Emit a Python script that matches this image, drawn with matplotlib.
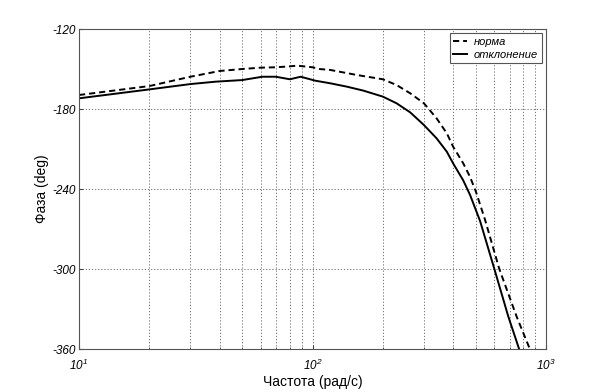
import math

import matplotlib

matplotlib.use("Agg")
import matplotlib.pyplot as plt
from matplotlib.ticker import FixedLocator, FuncFormatter, LogLocator, NullFormatter

plt.rcParams["font.family"] = ["Liberation Sans", "DejaVu Sans"]
plt.rcParams["font.style"] = "italic"
plt.rcParams["mathtext.fontset"] = "custom"
plt.rcParams["mathtext.it"] = "Liberation Sans:italic"
plt.rcParams["mathtext.rm"] = "Liberation Sans:italic"

# Phase response, nominal ("норма")
freq_norm = [10, 20, 30, 40, 50, 60, 70, 80, 86, 100, 107, 119, 155, 200, 229,
             262, 300, 340, 376, 400, 442, 473, 501, 548, 631, 749, 854]
phase_norm = [-169.5, -162.8, -155.8, -151.5, -150, -149, -148.7, -148, -147.5, -148.7,
              -150, -150.7, -154.5, -157.7, -162, -168.2, -175.7, -187, -198.2, -208.2,
              -220.7, -231, -242, -263, -300, -335.8, -360.3]

# Phase response, deviated ("отклонение")
freq_dev = [10, 20, 30, 38.5, 50, 61, 69.6, 80, 89, 103, 119, 140, 165, 200, 229,
            262, 300, 340, 376, 400, 442, 473, 522, 601, 690, 768]
phase_dev = [-172, -165.3, -161.3, -159.5, -158.3, -155.8, -155.8, -157.7, -155.8, -158.8,
             -160.7, -163.2, -166.2, -170.7, -175.7, -182.5, -192, -202, -212, -220.7,
             -233.5, -244.5, -264, -300, -335.8, -360.3]

y_ticks = [-360, -300, -240, -180, -120]
x_limits = (10, 1000)
y_limits = (-360, -120)

fig = plt.figure(figsize=(6.04, 3.92), dpi=100)
ax = fig.add_axes([79 / 604, 1 - 349 / 392, 467 / 604, 320 / 392])

ax.semilogx(freq_norm, phase_norm, color="black", linewidth=1.4, linestyle=(0, (3.2, 2)),
            label="норма")
ax.semilogx(freq_dev, phase_dev, color="black", linewidth=1.4, label="отклонение")

ax.set_xlim(*x_limits)
ax.set_ylim(*y_limits)
ax.yaxis.set_major_locator(FixedLocator(y_ticks))
ax.xaxis.set_major_locator(LogLocator(base=10))
ax.xaxis.set_minor_locator(LogLocator(base=10, subs=range(2, 10)))
ax.xaxis.set_minor_formatter(NullFormatter())
ax.xaxis.set_major_formatter(FuncFormatter(lambda v, _: r"$\mathit{10^{%d}}$" % round(math.log10(v))))
ax.yaxis.set_major_formatter(FuncFormatter(lambda v, _: "%d" % v))

ax.tick_params(axis="both", which="major", direction="in", length=3, labelsize=8.5, color="#444444")
ax.tick_params(axis="x", which="minor", direction="in", length=1.5, color="#444444")
ax.tick_params(axis="x", which="major", pad=6)
ax.tick_params(axis="y", which="major", pad=2)

ax.grid(True, which="major", axis="both", linestyle=(0, (1.2, 2)), color="#707070", linewidth=0.7)
ax.grid(True, which="minor", axis="x", linestyle=(0, (1.2, 2)), color="#707070", linewidth=0.7)
for spine in ax.spines.values():
    spine.set_color("#555555")
    spine.set_linewidth(0.8)

ax.set_xlabel("Частота (рад/с)", fontsize=10, fontstyle="normal", labelpad=2)
ax.set_ylabel("Фаза (deg)", fontsize=10, fontstyle="normal", labelpad=3)

legend = ax.legend(loc="upper right", prop={"style": "italic", "size": 8}, frameon=True,
                   fancybox=False, edgecolor="#555555", framealpha=1, handlelength=1.25,
                   handletextpad=0.6, borderaxespad=0.35, borderpad=0.35, labelspacing=0.25)
legend.get_frame().set_linewidth(0.8)

fig.savefig("out.png", dpi=100)
